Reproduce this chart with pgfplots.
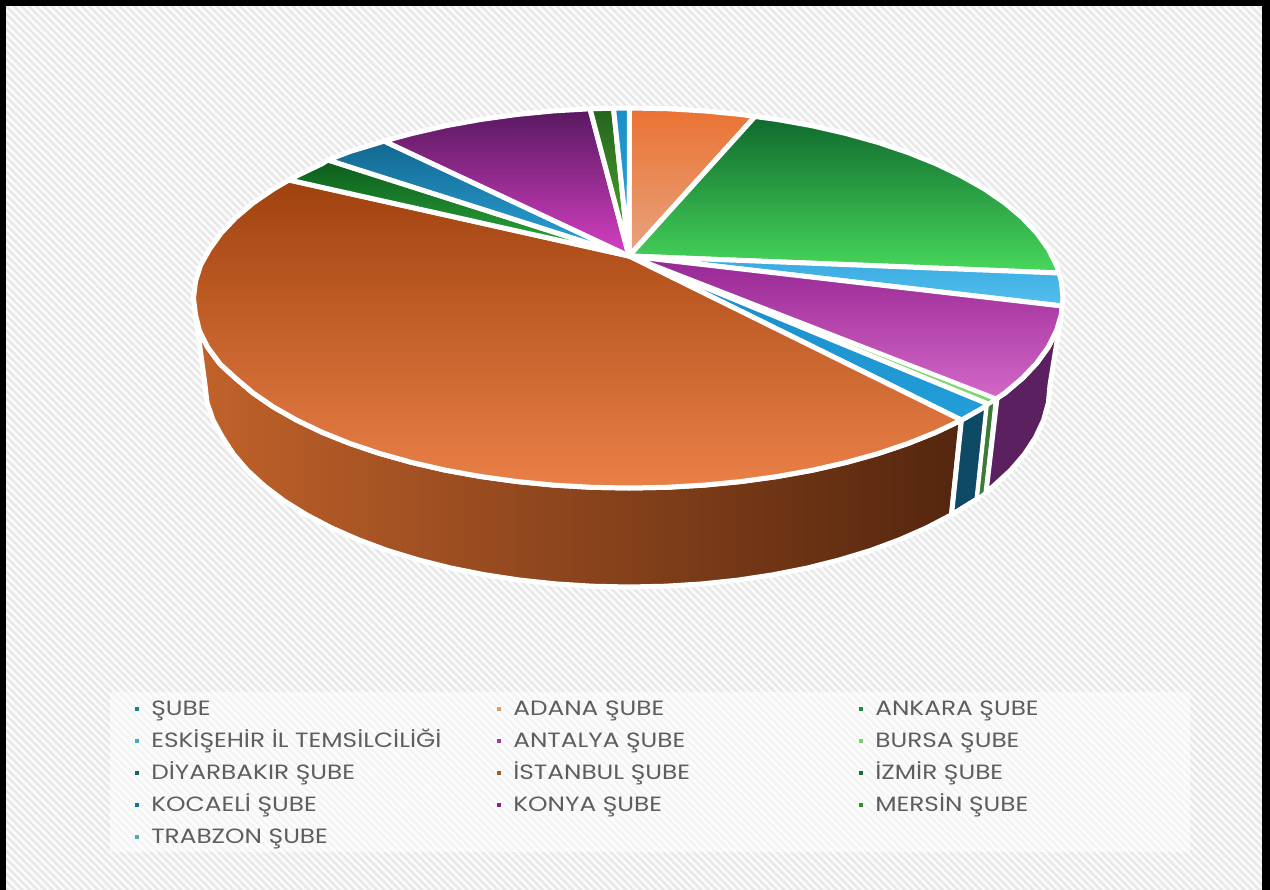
\documentclass[border=0pt]{standalone}
\usepackage{fontspec}
\setmainfont[FakeStretch=1.2]{Poppins}
\usepackage{pgfplots}
\pgfplotsset{compat=1.18}
\usetikzlibrary{patterns.meta}

\definecolor{txt}{HTML}{5E5E5E}
\newcommand{\lab}[1]{\makebox[207pt][l]{\hspace{7.2pt}#1}}

\pgfplotsset{
  slice/.style={draw=white, line width=3pt, line join=round, forget plot},
}

\begin{document}
\begin{tikzpicture}
\begin{axis}[
    scale only axis, width=762pt, height=534pt,
    xmin=0, xmax=1270, ymin=0, ymax=890, y dir=reverse,
    hide axis, clip=true,
    legend image code/.code={\fill[#1,draw=none] (0pt,-1.2pt) rectangle (2.4pt,1.2pt);},
    legend cell align=left,
    legend columns=3,
    legend style={
        at={(0.1055,0.9955)}, anchor=north west,
        yshift=-414.4pt, xshift=-2.4pt,
        draw=none, fill=none,
        font=\fontsize{12.4}{14}\selectfont\color{txt},
        nodes={inner sep=0pt, text height=10pt, text depth=3pt},
        row sep=6.2pt,
        /tikz/every even column/.style={column sep=7.8pt},
    },
]

% background
\addplot[forget plot, draw=none, fill={rgb,255:red,251;green,251;blue,251}] coordinates {(0,0)(1270,0)(1270,890)(0,890)} --cycle;
\addplot[forget plot, draw=none, pattern={Lines[angle=-45,distance=3.2pt,line width=1.5pt]}, pattern color=black!9] coordinates {(0,0)(1270,0)(1270,890)(0,890)} --cycle;
\addplot[forget plot, draw=none, fill=white, fill opacity=0.55] coordinates {(110,692)(1190,692)(1190,852)(110,852)} --cycle;

% legend squares
\addlegendimage{fill={rgb,255:red,23;green,130;blue,140}}\addlegendentry{\lab{ŞUBE}}
\addlegendimage{fill={rgb,255:red,230;green,150;blue,100}}\addlegendentry{\lab{ADANA ŞUBE}}
\addlegendimage{fill={rgb,255:red,30;green,140;blue,60}}\addlegendentry{\lab{ANKARA ŞUBE}}
\addlegendimage{fill={rgb,255:red,60;green,175;blue,190}}\addlegendentry{\lab{ESKİŞEHİR İL TEMSİLCİLİĞİ}}
\addlegendimage{fill={rgb,255:red,170;green,60;blue,160}}\addlegendentry{\lab{ANTALYA ŞUBE}}
\addlegendimage{fill={rgb,255:red,125;green,205;blue,115}}\addlegendentry{\lab{BURSA ŞUBE}}
\addlegendimage{fill={rgb,255:red,15;green,100;blue,110}}\addlegendentry{\lab{DİYARBAKIR ŞUBE}}
\addlegendimage{fill={rgb,255:red,170;green,90;blue,40}}\addlegendentry{\lab{İSTANBUL ŞUBE}}
\addlegendimage{fill={rgb,255:red,20;green,110;blue,50}}\addlegendentry{\lab{İZMİR ŞUBE}}
\addlegendimage{fill={rgb,255:red,15;green,120;blue,140}}\addlegendentry{\lab{KOCAELİ ŞUBE}}
\addlegendimage{fill={rgb,255:red,130;green,40;blue,130}}\addlegendentry{\lab{KONYA ŞUBE}}
\addlegendimage{fill={rgb,255:red,50;green,140;blue,50}}\addlegendentry{\lab{MERSİN ŞUBE}}
\addlegendimage{fill={rgb,255:red,80;green,170;blue,180}}\addlegendentry{\lab{TRABZON ŞUBE}}

% side walls
\addplot[slice, left color={rgb,255:red,193;green,98;blue,42}, middle color={rgb,255:red,150;green,78;blue,40}, right color={rgb,255:red,84;green,38;blue,14}] coordinates {
 (961.4,420.1)(935.9,432.3)(908,443.5)(877.9,453.6)(846,462.5)(812.4,470.2)(777.4,476.5)(741.3,481.5)(704.3,485.1)(666.8,487.3)(629,488)
 (591.2,487.3)(553.7,485.1)(516.7,481.5)(480.6,476.5)(445.6,470.2)(412,462.5)(380.1,453.6)(350,443.5)(322.1,432.3)(296.6,420.1)(273.5,407)(253.1,393)(235.7,378.3)(220,364)(207.5,347)(199.5,331)(196,318)
 (205,385)(207,402.6)(213,420.1)(222.4,437.3)(233.4,454.1)(247.4,470.4)(264.4,486)(284.1,500.9)(306.5,514.8)(331.3,527.8)(358.4,539.7)(387.5,550.5)(418.5,559.9)(451.1,568.1)(485,574.8)(520,580.1)(555.9,583.9)(592.3,586.2)(629,587)
 (665.7,586.2)(702.1,583.9)(738,580.1)(773,574.8)(806.9,568.1)(839.5,559.9)(870.5,550.5)(899.6,539.7)(926.7,527.8)(951.5,514.8)
} --cycle;
\addplot[slice, fill={rgb,255:red,14;green,74;blue,102}] coordinates {(961.4,420.1)(987,405)(977,499)(951.5,514.8)} --cycle;
\addplot[slice, line width=2.2pt, fill={rgb,255:red,60;green,122;blue,53}] coordinates {(987,405)(995.5,400)(986,492.5)(977,499)} --cycle;
\addplot[slice, fill={rgb,255:red,90;green,32;blue,96}] coordinates {(997,398)(1004.9,393)(1022.3,378.3)(1036.8,363)(1048.2,347.2)(1056.4,331)(1061.3,314.6)(1050,385)(1048.4,402.6)(1043.6,420.1)(1035.6,437.3)(1024.6,454.1)(1010.6,470.4)(993.6,486)(986,492.5)} --cycle;

% top face, one wedge per branch
\addplot[slice, top color={rgb,255:red,234;green,114;blue,50}, bottom color={rgb,255:red,232;green,164;blue,128}] coordinates {(629,256)(629.5,108)(666.8,108.7)(704.3,110.9)(741.3,114.5)(755,116.5)} --cycle;
\addplot[slice, top color={rgb,255:red,15;green,106;blue,45}, bottom color={rgb,255:red,72;green,216;blue,92}] coordinates {(629,256)(755,116.5)(777.4,119.5)(812.4,125.8)(846,133.5)(877.9,142.4)(908,152.5)(935.9,163.7)(961.4,175.9)(984.5,189)(1004.9,203)(1022.3,217.7)(1036.8,233)(1048.2,248.8)(1056.4,265)(1059,273)} --cycle;
\addplot[slice, top color={rgb,255:red,56;green,168;blue,224}, bottom color={rgb,255:red,84;green,192;blue,238}] coordinates {(629,256)(1059,273)(1061.3,281.4)(1063,298)(1062,306)} --cycle;
\addplot[slice, top color={rgb,255:red,150;green,38;blue,146}, bottom color={rgb,255:red,212;green,104;blue,200}] coordinates {(629,256)(1062,306)(1061.3,314.6)(1056.4,331)(1048.2,347.2)(1036.8,363)(1022.3,378.3)(1004.9,393)(996,399)} --cycle;
\addplot[slice, line width=2.4pt, fill={rgb,255:red,126;green,214;blue,108}] coordinates {(629,256)(996,399)(988,404)} --cycle;
\addplot[slice, top color={rgb,255:red,26;green,140;blue,200}, bottom color={rgb,255:red,34;green,158;blue,216}] coordinates {(629,256)(988,404)(984.5,407)(961.4,420.1)} --cycle;
\addplot[slice, shading angle=8, top color={rgb,255:red,160;green,66;blue,14}, middle color={rgb,255:red,212;green,110;blue,56}, bottom color={rgb,255:red,234;green,128;blue,72}] coordinates {(629,256)(961.4,420.1)(935.9,432.3)(908,443.5)(877.9,453.6)(846,462.5)(812.4,470.2)(777.4,476.5)(741.3,481.5)(704.3,485.1)(666.8,487.3)(629,488)
 (591.2,487.3)(553.7,485.1)(516.7,481.5)(480.6,476.5)(445.6,470.2)(412,462.5)(380.1,453.6)(350,443.5)(322.1,432.3)(296.6,420.1)(273.5,407)(253.1,393)(235.7,378.3)(220,364)(207.5,347)(199.5,331)(195.5,314.6)(193.5,298)
 (195.5,281.4)(200.6,265)(209.8,248.8)(221.2,233)(235.7,217.7)(253.1,203)(273.5,189)(289,180)} --cycle;
\addplot[slice, top color={rgb,255:red,12;green,92;blue,28}, bottom color={rgb,255:red,46;green,172;blue,62}] coordinates {(629,256)(289,180)(296.6,175.9)(322.1,163.7)(328,160)} --cycle;
\addplot[slice, top color={rgb,255:red,18;green,104;blue,144}, bottom color={rgb,255:red,44;green,164;blue,220}] coordinates {(629,256)(328,160)(350,151.5)(380.1,142.4)(384,141)} --cycle;
\addplot[slice, top color={rgb,255:red,88;green,24;blue,96}, bottom color={rgb,255:red,212;green,64;blue,194}] coordinates {(629,256)(384,141)(412,133.5)(445.6,125.8)(480.6,119.5)(516.7,114.5)(553.7,110.9)(590,108.8)} --cycle;
\addplot[slice, top color={rgb,255:red,36;green,100;blue,28}, bottom color={rgb,255:red,82;green,172;blue,48}] coordinates {(629,256)(590,108.8)(613.5,108.2)} --cycle;
\addplot[slice, top color={rgb,255:red,26;green,142;blue,200}, bottom color={rgb,255:red,46;green,166;blue,222}] coordinates {(629,256)(613.5,108.2)(629.5,108)} --cycle;

% frame
\fill[black] (axis cs:0,0) rectangle (axis cs:1270,6);
\fill[black] (axis cs:0,0) rectangle (axis cs:6,890);
\fill[black] (axis cs:1262,0) rectangle (axis cs:1270,890);

\end{axis}
\end{tikzpicture}
\end{document}
